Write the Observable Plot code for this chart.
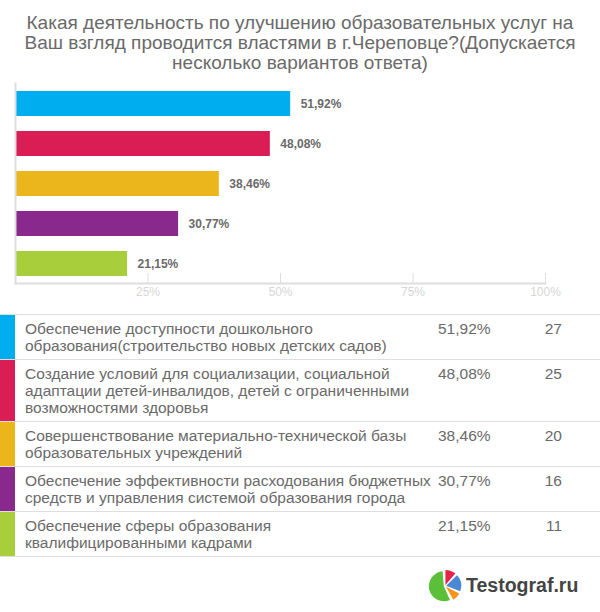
<!DOCTYPE html>
<html>
<head>
<meta charset="utf-8">
<script src="https://cdn.jsdelivr.net/npm/d3@7"></script>
<script src="https://cdn.jsdelivr.net/npm/@observablehq/plot@0.6"></script>
<style>
  html, body { margin: 0; padding: 0; background: #fff; }
  body { width: 600px; height: 612px; position: relative; overflow: hidden;
         font-family: "Liberation Sans", Arial, sans-serif; }
  #title { position: absolute; top: 13px; left: 0; width: 600px; text-align: center;
           font-size: 19px; line-height: 20px; color: #6a6a6a; }
  #chart { position: absolute; top: 80px; left: 0; }
  #table { position: absolute; top: 314px; left: 0; width: 600px; border-top: 1px solid #dedede; }
  .row { position: relative; border-bottom: 1px solid #dedede; padding: 5px 0 5px 0; color: #6a6a6a;
         font-size: 15.5px; line-height: 17px; }
  .strip { position: absolute; left: 0; top: 0; bottom: 0; width: 15px; }
  .txt { margin-left: 25px; white-space: nowrap; }
  .pct { position: absolute; left: 438px; top: 5px; }
  .cnt { position: absolute; right: 38px; top: 5px; text-align: right; }
  #logo { position: absolute; left: 428px; top: 569px; }
  #logotext { position: absolute; left: 466px; top: 574px; font-weight: bold; font-size: 19.5px;
              color: #444; line-height: 22px; }
</style>
</head>
<body>
<div id="title"></div>
<div id="chart"></div>
<div id="table"></div>
<svg id="logo" width="34" height="34"></svg>
<div id="logotext">Testograf.ru</div>
<script>
const titleLines = [
  "Какая деятельность по улучшению образовательных услуг на",
  "Ваш взгляд проводится властями в г.Череповце?(Допускается",
  "несколько вариантов ответа)"
];
const answers = [
  "Обеспечение доступности дошкольного\nобразования(строительство новых детских садов)",
  "Создание условий для социализации, социальной\nадаптации детей-инвалидов, детей с ограниченными\nвозможностями здоровья",
  "Совершенствование материально-технической базы\nобразовательных учреждений",
  "Обеспечение эффективности расходования бюджетных\nсредств и управления системой образования города",
  "Обеспечение сферы образования\nквалифицированными кадрами"
];
const percents = [51.92, 48.08, 38.46, 30.77, 21.15];
const percentLabels = ["51,92%", "48,08%", "38,46%", "30,77%", "21,15%"];
const counts = [27, 25, 20, 16, 11];
const colors = ["#00AEEF", "#DA1D54", "#EBB61B", "#8A298D", "#A8CE3C"];
const xTicks = [25, 50, 75, 100];
const logoSlices = [
  {a0: 0.00, a1: 0.72, color: "#E8234A"},
  {a0: 0.80, a1: 1.95, color: "#4A88D4"},
  {a0: 2.03, a1: 2.62, color: "#F7941D"},
  {a0: 2.72, a1: 6.20, color: "#5CBF3A"}
];

document.getElementById("title").innerHTML = titleLines.join("<br>");

const data = answers.map((a, i) => ({cat: a, pct: percents[i], label: percentLabels[i], count: counts[i]}));

const chart = Plot.plot({
  width: 600,
  height: 228,
  marginLeft: 15,
  marginRight: 55,
  marginTop: 3,
  marginBottom: 25,
  style: {fontFamily: "'Liberation Sans', Arial, sans-serif", background: "transparent"},
  x: {domain: [0, 100], label: null},
  y: {domain: answers, axis: null, paddingInner: 0.375, paddingOuter: 0.1875},
  color: {domain: answers, range: colors},
  marks: [
    Plot.ruleX(xTicks, {stroke: "#dedede", strokeWidth: 1, insetTop: 190}),
    Plot.frame({anchor: "bottom", stroke: "#dedede", strokeWidth: 2}),
    Plot.barX(data, {x: "pct", y: "cat", fill: "cat"}),
    Plot.frame({anchor: "left", stroke: "#dedede", strokeWidth: 2}),
    Plot.text(data, {x: "pct", y: "cat", text: "label", dx: 10, textAnchor: "start",
      fontWeight: "bold", fontSize: 12, fill: "#6a6a6a", style: "letter-spacing:0.3px"}),
    Plot.axisX({ticks: xTicks, tickSize: 0, tickPadding: 4, tickFormat: d => d + "%", label: null,
      fontSize: 12, fill: "#d6d6d6", color: "#d6d6d6"})
  ]
});
document.getElementById("chart").appendChild(chart);

const table = d3.select("#table");
data.forEach((d, i) => {
  const row = table.append("div").attr("class", "row");
  row.append("div").attr("class", "strip").style("background", colors[i]);
  row.append("div").attr("class", "txt").html(d.cat.split("\n").join("<br>"));
  row.append("div").attr("class", "pct").text(d.label);
  row.append("div").attr("class", "cnt").text(d.count);
});

const logo = d3.select("#logo");
const arc = d3.arc().innerRadius(0);
logoSlices.forEach(s => {
  const mid = (s.a0 + s.a1) / 2;
  const off = 1.2;
  logo.append("path")
    .attr("d", arc({startAngle: s.a0, endAngle: s.a1, outerRadius: 15}))
    .attr("transform", `translate(${17 + off * Math.sin(mid)},${17 - off * Math.cos(mid)})`)
    .attr("fill", s.color);
});
</script>
</body>
</html>
